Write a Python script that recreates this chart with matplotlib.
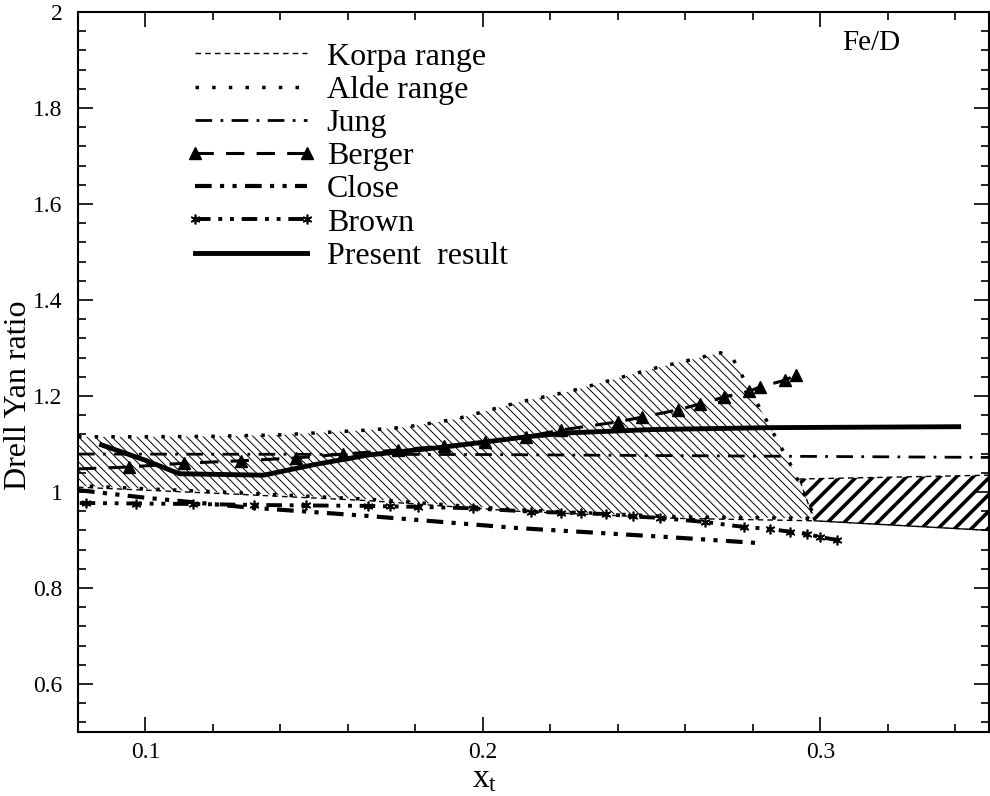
import matplotlib
matplotlib.use("Agg")
import matplotlib.pyplot as plt
from matplotlib.ticker import MultipleLocator, FuncFormatter

plt.rcParams['font.family'] = ['Liberation Serif', 'DejaVu Serif']
plt.rcParams['mathtext.fontset'] = 'custom'
plt.rcParams['mathtext.rm'] = 'Liberation Serif'
plt.rcParams['mathtext.it'] = 'Liberation Serif:italic'

# Alde range (light hatched band, dotted edge)
alde_x = [0.08, 0.10, 0.12, 0.14, 0.166, 0.177, 0.187, 0.192, 0.211, 0.226, 0.251, 0.2705,
          0.2743, 0.2914, 0.2982,
          0.2982, 0.258, 0.21, 0.166, 0.125, 0.08]
alde_y = [1.115, 1.115, 1.116, 1.119, 1.129, 1.135, 1.146, 1.152, 1.1875, 1.21, 1.258, 1.29,
          1.275, 1.054, 0.950,
          0.945, 0.948, 0.963, 0.985, 0.999, 1.013]

# Korpa range (heavy hatched box on the right, dashed edge)
korpa_x = [0.2938, 0.35, 0.35, 0.2982]
korpa_y = [1.027, 1.035, 0.920, 0.940]
korpa_low_x = [0.08, 0.125, 0.166, 0.21, 0.258, 0.2982, 0.35]
korpa_low_y = [1.010, 0.996, 0.982, 0.960, 0.945, 0.940, 0.920]

jung_x = [0.08, 0.2, 0.35]
jung_y = [1.079, 1.078, 1.072]

berger_x = [0.08, 0.0950, 0.1115, 0.1284, 0.1447, 0.1586, 0.1749, 0.1885, 0.2006, 0.2127,
            0.2231, 0.2399, 0.2473, 0.2577, 0.2642, 0.2716, 0.2790, 0.2822, 0.2896, 0.2929]
berger_y = [1.048, 1.052, 1.060, 1.065, 1.071, 1.079, 1.0875, 1.096, 1.104, 1.115,
            1.129, 1.146, 1.156, 1.171, 1.183, 1.198, 1.210, 1.219, 1.233, 1.244]

close_x = [0.08, 0.10, 0.13, 0.166, 0.21, 0.255, 0.283]
close_y = [1.004, 0.988, 0.968, 0.950, 0.925, 0.906, 0.893]

brown_x = [0.0805, 0.0825, 0.0973, 0.1142, 0.1322, 0.1476, 0.166, 0.1725, 0.1808, 0.197,
           0.2142, 0.2231, 0.229, 0.2364, 0.2444, 0.2524, 0.2657, 0.2775, 0.2852, 0.2911,
           0.2962, 0.300, 0.305]
brown_y = [0.977, 0.977, 0.976, 0.975, 0.973, 0.972, 0.971, 0.970, 0.969, 0.966,
           0.959, 0.957, 0.956, 0.954, 0.949, 0.946, 0.9375, 0.927, 0.923, 0.917,
           0.9125, 0.906, 0.900]

present_x = [0.087, 0.100, 0.110, 0.135, 0.150, 0.166, 0.189, 0.213, 0.225, 0.250, 0.285, 0.341]
present_y = [1.098, 1.066, 1.038, 1.035, 1.057, 1.077, 1.094, 1.115, 1.123, 1.130, 1.134, 1.136]

fig = plt.figure(figsize=(9.9, 7.96), dpi=100)
ax = fig.add_axes([0.0788, 0.0804, 0.9202, 0.9046])


def hatched(xs, ys, pattern, hlw):
    with plt.rc_context({'hatch.linewidth': hlw}):
        p = ax.fill(xs, ys, facecolor='none', edgecolor='black', linewidth=0, hatch=pattern)[0]
    if hasattr(p, 'set_hatch_linewidth'):
        p.set_hatch_linewidth(hlw)
    return p


hatched(alde_x, alde_y, '\\\\\\\\', 0.7)
hatched(korpa_x, korpa_y, '//', 2.6)

# edges
ax.plot(alde_x, alde_y, color='black', lw=2.5, linestyle=(0, (1, 3.8)), dash_capstyle='butt')
ax.plot(korpa_x + korpa_x[:1], korpa_y + korpa_y[:1], color='black', lw=1, linestyle=(0, (4, 3)))
ax.plot(korpa_low_x, korpa_low_y, color='black', lw=1, linestyle=(0, (4, 3)))

# legend proxies / curves
ax.plot([], [], color='black', lw=1, linestyle=(0, (4, 3)), label='Korpa range')
ax.plot([], [], color='black', lw=2.5, linestyle=(0, (1, 3.8)), dash_capstyle='butt',
        label='Alde range')
ax.plot(jung_x, jung_y, color='black', lw=2, linestyle=(0, (6, 3, 1, 3)), label='Jung')
ax.plot(berger_x, berger_y, color='black', lw=2.2, linestyle=(0, (6, 4)),
        marker='^', ms=8, markevery=list(range(1, len(berger_x))), label='Berger')
ax.plot(close_x, close_y, color='black', lw=3, linestyle=(0, (4, 2, 1, 2, 1, 2)), label='Close')
ax.plot(brown_x, brown_y, color='black', lw=2.8, linestyle=(0, (4, 2, 1, 2, 1, 2)),
        marker=(6, 2, 0), ms=7, mew=1.2, markevery=list(range(1, len(brown_x))), label='Brown')
ax.plot(present_x, present_y, color='black', lw=3.5, label='Present  result')

ax.set_xlim(0.08, 0.35)
ax.set_ylim(0.5, 2.0)
ax.xaxis.set_major_locator(MultipleLocator(0.1))
ax.xaxis.set_minor_locator(MultipleLocator(0.02))
ax.yaxis.set_major_locator(MultipleLocator(0.2))
ax.yaxis.set_minor_locator(MultipleLocator(0.04))
fmt = FuncFormatter(lambda v, p: '%g' % round(v, 3))
ax.xaxis.set_major_formatter(fmt)
ax.yaxis.set_major_formatter(fmt)
ax.tick_params(which='both', direction='in', top=True, right=True, labelsize=17)
ax.tick_params(which='major', length=11, width=1.2)
ax.tick_params(which='minor', length=6, width=1.2)
ax.tick_params(axis='y', pad=11)
ax.tick_params(axis='x', pad=7)
for s in ax.spines.values():
    s.set_linewidth(1.5)

ax.set_ylabel('Drell Yan ratio', fontsize=23)
ax.yaxis.set_label_coords(-0.049, 0.467)
ax.set_xlabel(r'$\mathregular{x_t}$', fontsize=24)
ax.xaxis.set_label_coords(0.446, -0.044)
ax.text(0.3065, 1.935, 'Fe/D', fontsize=21, va='center', ha='left')

ax.legend(loc='upper left', bbox_to_anchor=(0.118, 0.958), frameon=False, fontsize=23,
          handlelength=4.1, handletextpad=0.32, labelspacing=0.12, borderpad=0,
          borderaxespad=0, numpoints=2)

fig.savefig('out.png', dpi=100)
